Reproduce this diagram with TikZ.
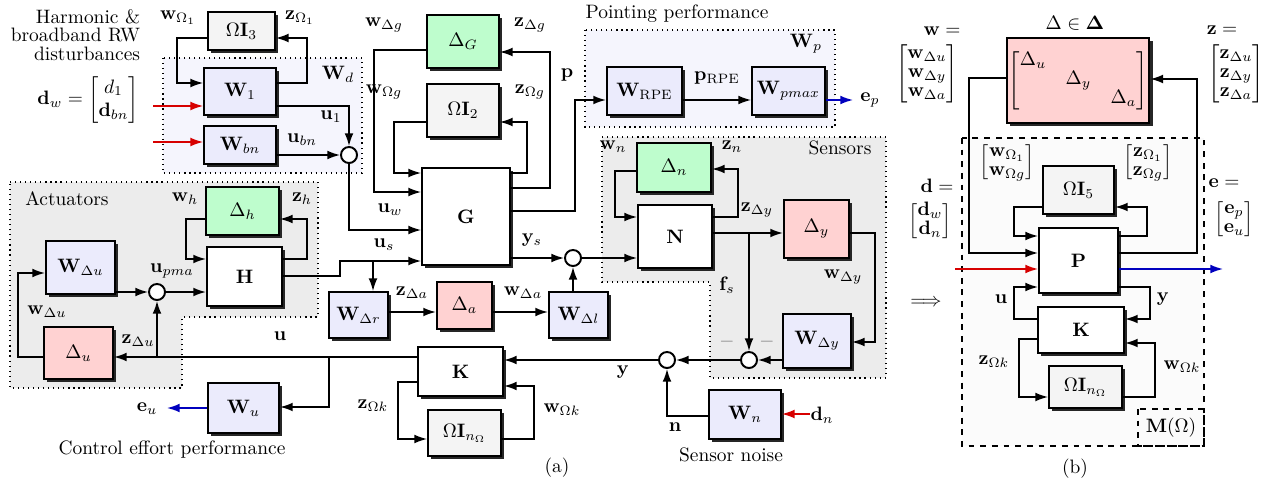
\documentclass[tikz,border=0pt]{standalone}
\usepackage{amsmath,amssymb}
\usepackage{xcolor}
\usepackage{tikz}
\usetikzlibrary{arrows.meta, positioning, shadows}

\definecolor{wgtfill}{RGB}{235,235,252}
\definecolor{uncfill}{RGB}{255,210,210}
\definecolor{unmfill}{RGB}{190,253,205}
\definecolor{omgfill}{RGB}{244,244,244}
\definecolor{regfill}{RGB}{236,236,236}
\definecolor{wregfill}{RGB}{245,245,253}
\definecolor{dstred}{RGB}{215,0,0}
\definecolor{perfblue}{RGB}{0,0,190}

\begin{document}
\begin{tikzpicture}[
  x=0.0181cm, y={(0,-0.0181cm)},
  blk/.style={draw, line width=1pt, fill=white, minimum width=1.3cm, minimum height=0.87cm, inner sep=1pt,
    drop shadow={shadow xshift=1.6pt, shadow yshift=-1.6pt, fill=black!85, opacity=1}},
  wgt/.style={blk, fill=wgtfill},
  unc/.style={blk, fill=uncfill},
  unm/.style={blk, fill=unmfill},
  omg/.style={blk, fill=omgfill},
  sum/.style={circle, draw, line width=1pt, fill=white, minimum size=0.29cm, inner sep=0pt},
  sig/.style={-{Latex[length=6.5pt, width=4.5pt]}, line width=0.8pt},
  reg/.style={draw, dotted, line width=0.6pt, fill=regfill},
  mlab/.style={inner sep=0pt, font=\def\arraystretch{0.82}},
  eqlab/.style={inner sep=0pt},
]
\useasboundingbox (0,0) rectangle (1279,485);

% Regions
\draw[reg, fill=wregfill] (163,58) rectangle (362,173);
\draw[reg, fill=wregfill] (585,30) rectangle (835,127);
\draw[reg] (10,182) -- (318,182) -- (318,317) -- (182,317) -- (182,388) -- (10,388) -- cycle;
\draw[reg] (602,137) -- (886,137) -- (886,378) -- (710,378) -- (710,282) -- (602,282) -- cycle;
\draw[reg, dashed, fill=black!1.5] (962,138) rectangle (1204,446);
\draw[reg, dashed, fill=none] (1138,409) rectangle (1204,446);

% Disturbance model
\node[omg, minimum width=1.21cm, minimum height=0.69cm] (O3) at (241.5,31) {$\Omega\mathbf{I}_3$};
\node[wgt, minimum height=0.85cm] (W1) at (240,91.5) {$\mathbf{W}_1$};
\node[wgt, minimum height=0.69cm] (Wbn) at (240,145) {$\mathbf{W}_{bn}$};

% Plant
\node[unm, minimum height=0.96cm] (DG) at (463,41.5) {$\Delta_G$};
\node[omg, minimum height=0.96cm] (O2) at (463,110.5) {$\Omega\mathbf{I}_2$};
\node[blk, minimum width=1.59cm, minimum height=1.76cm] (G) at (466,216.5) {$\mathbf{G}$};

% Pointing performance
\node[wgt, minimum width=1.36cm] (WRPE) at (644.5,91) {$\mathbf{W}_{\mathrm{RPE}}$};
\node[wgt, minimum width=1.32cm, inner sep=0pt] (Wpm) at (788.5,91) {$\mathbf{W}_{pmax}$};

% Sensors
\node[unm, minimum width=1.34cm, minimum height=0.89cm] (Dn) at (674,167.5) {$\Delta_n$};
\node[blk, minimum width=1.34cm, minimum height=1.14cm] (N) at (675,236.5) {$\mathbf{N}$};
\node[unc, minimum width=1.18cm, minimum height=1.05cm] (Dy) at (816.5,229) {$\Delta_y$};
\node[wgt, minimum width=1.23cm, minimum height=0.98cm] (WDy) at (817,341) {$\mathbf{W}_{\Delta y}$};
\node[wgt, minimum height=0.89cm] (Wn) at (745,414.5) {$\mathbf{W}_n$};

% Controller
\node[blk, minimum width=1.54cm, minimum height=0.89cm] (K) at (460.5,371.5) {$\mathbf{K}$};
\node[omg, minimum width=1.32cm, minimum height=0.83cm] (Ok) at (464.5,433) {$\Omega\mathbf{I}_{n_\Omega}$};
\node[wgt, minimum width=1.29cm, minimum height=0.91cm] (Wu) at (243.5,408) {$\mathbf{W}_u$};

% Actuators
\node[unc, minimum width=1.25cm, minimum height=0.94cm] (Du) at (78.5,353) {$\Delta_u$};
\node[wgt, minimum width=1.25cm, minimum height=0.96cm] (WDu) at (80.5,267.5) {$\mathbf{W}_{\Delta u}$};
\node[blk, minimum width=1.36cm, minimum height=1.07cm] (H) at (244.5,276.5) {$\mathbf{H}$};
\node[unm, minimum width=1.32cm] (Dh) at (242.5,211) {$\Delta_h$};

% Rate / delay
\node[wgt, minimum width=1.07cm, minimum height=0.83cm] (WDr) at (358.5,315) {$\mathbf{W}_{\Delta r}$};
\node[unc, minimum width=1.0cm, minimum height=0.85cm] (Da) at (464.5,305.5) {$\Delta_a$};
\node[wgt, minimum width=1.07cm, minimum height=0.83cm] (WDl) at (578.5,315) {$\mathbf{W}_{\Delta l}$};

% Sums
\foreach \n/\x/\y in {s1/349/155, s2/573/258, s3/749/360, s4/667/360, s5/157/292} {
  \node[sum] (\n) at (\x,\y) {};
}

% Free ends
\coordinate (dw1) at (153,106);
\coordinate (dw2) at (153,142);
\coordinate (ep) at (853,100);
\coordinate (dn) at (810,414);
\coordinate (eu) at (167,408);
\coordinate (us) at (373,261);
\coordinate (ub) at (329,357);

% Connectors (a)
\draw[sig] (O3.west |- 0,38) -| (177,83) -- (W1.west |- 0,83);
\draw[sig] (W1.east |- 0,83) -| (307,38) -- (O3.east |- 0,38);
\draw[sig, dstred] (dw1) -- (W1.west |- dw1);
\draw[sig, dstred] (dw2) -- (Wbn.west |- dw2);
\draw[sig] (W1.east |- 0,106) -| (s1.north);
\draw[sig] (Wbn.east |- s1) -- (s1.west);
\draw[sig] (s1.south) |- (G.west |- 0,230);
\draw[sig] (DG.west |- 0,50) -| (374,192) -- (G.west |- 0,192);
\draw[sig] (O2.west |- 0,122) -| (394,173) -- (G.west |- 0,173);
\draw[sig] (G.east |- 0,173) -| (527,122) -- (O2.east |- 0,122);
\draw[sig] (G.east |- 0,188) -| (550,52) -- (DG.east |- 0,52);
\draw[sig] (G.east |- 0,211) -| (575,100) -- (WRPE.west |- 0,100);
\draw[sig] (G.east |- s2) -- (s2.west);
\draw[sig] (WRPE.east |- 0,100) -- (Wpm.west |- 0,100);
\draw[sig, perfblue] (Wpm.east |- ep) -- (ep);
\draw[sig] (H.east |- 0,276) -| (340,261) -- (G.west |- 0,261);
\draw[sig] (us) -- (WDr.north -| us);
\draw[sig] (WDr.east |- 0,312) -- (Da.west |- 0,312);
\draw[sig] (Da.east |- 0,312) -- (WDl.west |- 0,312);
\draw[sig] (WDl.north -| s2) -- (s2.south);
\draw[sig] (s2.east) -- (N.west |- s2);
\draw[sig] (Dn.west |- 0,171) -| (615,217) -- (N.west |- 0,217);
\draw[sig] (N.east |- 0,217) -| (738,169) -- (Dn.east |- 0,169);
\draw[sig] (N.east |- 0,233) -- (Dy.west |- 0,233);
\draw[sig] (s3 |- 0,233) -- (s3.north);
\draw[sig] (Dy.east |- 0,233) -| (875,342) -- (WDy.east |- 0,342);
\draw[sig] (WDy.west |- s3) -- (s3.east);
\draw[sig] (s3.west) -- (s4.east);
\draw[sig] (s4.west) -- (K.east |- s4);
\draw[sig] (Wn.west |- 0,416) -| (s4.south);
\draw[sig, dstred] (dn) -- (Wn.east |- dn);
\draw[sig] (K.west |- 0,357) -- (Du.east |- 0,357);
\draw[sig] (ub) |- (Wu.east |- 0,407);
\draw[sig] (s5 |- 0,357) -- (s5.south);
\draw[sig, perfblue] (Wu.west |- eu) -- (eu);
\draw[sig] (Du.west |- 0,357) -| (18,273) -- (WDu.west |- 0,273);
\draw[sig] (WDu.east |- s5) -- (s5.west);
\draw[sig] (s5.east) -- (H.west |- s5);
\draw[sig] (Dh.west |- 0,219) -| (186,259) -- (H.west |- 0,259);
\draw[sig] (H.east |- 0,259) -| (307,219) -- (Dh.east |- 0,219);
\draw[sig] (K.west |- 0,382) -| (398,439) -- (Ok.west |- 0,439);
\draw[sig] (Ok.east |- 0,439) -| (534,386) -- (K.east |- 0,386);

% Labels (a)
\node[anchor=east, align=right] (ldist) at (147,35) {Harmonic \&\\[-2.5pt] broadband RW\\[-2.5pt] disturbances};
\node (ldw) at (88,100) {$\mathbf{d}_w=\begin{bmatrix}d_1\\ \mathbf{d}_{bn}\end{bmatrix}$};
\node (lwO1) at (178,18) {$\mathbf{w}_{\Omega_1}$};
\node (lzO1) at (300,18) {$\mathbf{z}_{\Omega_1}$};
\node (lWd) at (338,74) {$\mathbf{W}_d$};
\node (lu1) at (331,117) {$\mathbf{u}_1$};
\node (lubn) at (302,140) {$\mathbf{u}_{bn}$};
\node (luw) at (390,210) {$\mathbf{u}_w$};
\node (lus) at (384,245) {$\mathbf{u}_s$};
\node (lwDg) at (384,25) {$\mathbf{w}_{\Delta g}$};
\node (lzDg) at (530,25) {$\mathbf{z}_{\Delta g}$};
\node (lwOg) at (384,92) {$\mathbf{w}_{\Omega g}$};
\node (lzOg) at (530,92) {$\mathbf{z}_{\Omega g}$};
\node (lp) at (567,75) {$\mathbf{p}$};
\node (lys) at (532,240) {$\mathbf{y}_s$};
\node (lpp) at (677,14) {Pointing performance};
\node (lWp) at (806,44) {$\mathbf{W}_p$};
\node (lpRPE) at (717,78) {$\mathbf{p}_{\mathrm{RPE}}$};
\node (lep) at (870,100) {$\mathbf{e}_p$};
\node (lsens) at (840,148) {Sensors};
\node (lwn) at (613,147) {$\mathbf{w}_n$};
\node (lzn) at (732,147) {$\mathbf{z}_n$};
\node (lzDy) at (757,210) {$\mathbf{z}_{\Delta y}$};
\node (lfs) at (727,285) {$\mathbf{f}_s$};
\node (lwDy) at (843,277) {$\mathbf{w}_{\Delta y}$};
\node[gray] (lm1) at (727,342) {$-$};
\node[gray] (lm2) at (767,342) {$-$};
\node (ly) at (623,372) {$\mathbf{y}$};
\node (ln) at (675,427) {$\mathbf{n}$};
\node (ldn) at (822,415) {$\mathbf{d}_n$};
\node (lsn) at (731,455) {Sensor noise};
\node (lwOk) at (562,410) {$\mathbf{w}_{\Omega k}$};
\node (lzOk) at (373,406) {$\mathbf{z}_{\Omega k}$};
\node (lu) at (280,336) {$\mathbf{u}$};
\node (leu) at (147,409) {$\mathbf{e}_u$};
\node (lcep) at (172,450) {Control effort performance};
\node (lact) at (67,199) {Actuators};
\node (lwh) at (185,199) {$\mathbf{w}_h$};
\node (lzh) at (302,199) {$\mathbf{z}_h$};
\node (lupma) at (172,271) {$\mathbf{u}_{pma}$};
\node (lwDu) at (47,312) {$\mathbf{w}_{\Delta u}$};
\node (lzDu) at (138,341) {$\mathbf{z}_{\Delta u}$};
\node (lzDa) at (412,293) {$\mathbf{z}_{\Delta a}$};
\node (lwDa) at (523,293) {$\mathbf{w}_{\Delta a}$};
\node (la) at (557,468) {(a)};

% Part (b)
\node[unc, minimum width=2.53cm, minimum height=1.54cm, font=\def\arraystretch{0.82}] (D) at (1078,80.5) {$\begin{bmatrix}\Delta_u&&\\&\Delta_y&\\&&\Delta_a\end{bmatrix}$};
\node[omg, minimum width=1.29cm] (O5) at (1078.5,190) {$\Omega\mathbf{I}_5$};
\node[blk, minimum width=1.43cm, minimum height=1.18cm] (P) at (1078.5,260.5) {$\mathbf{P}$};
\node[blk, minimum width=1.56cm, minimum height=0.83cm] (Kb) at (1081,330) {$\mathbf{K}$};
\node[omg, minimum width=1.32cm, minimum height=0.76cm] (Okb) at (1085.5,387) {$\Omega\mathbf{I}_{n_\Omega}$};

\coordinate (db) at (955,269);
\coordinate (eb) at (1223,269);

\draw[sig] (D.west |- 0,78) -| (969,253) -- (P.west |- 0,253);
\draw[sig] (P.east |- 0,253) -| (1197,79) -- (D.east |- 0,79);
\draw[sig] (O5.west |- 0,207) -| (1014,236) -- (P.west |- 0,236);
\draw[sig] (P.east |- 0,236) -| (1147,207) -- (O5.east |- 0,207);
\draw[sig, dstred] (db) -- (P.west |- db);
\draw[sig, perfblue] (P.east |- eb) -- (eb);
\draw[sig] (Kb.west |- 0,319) -| (1014,287) -- (P.west |- 0,287);
\draw[sig] (P.east |- 0,287) -| (1150,319) -- (Kb.east |- 0,319);
\draw[sig] (Kb.west |- 0,339) -| (1019,397) -- (Okb.west |- 0,397);
\draw[sig] (Okb.east |- 0,397) -| (1155,343) -- (Kb.east |- 0,343);

% Labels (b)
\node (lDelta) at (1075,23) {$\Delta\in\mathbf{\Delta}$};
\node[eqlab] (lweq) at (942,31) {$\mathbf{w}=$};
\node[mlab] (lw) at (927,74) {$\begin{bmatrix}\mathbf{w}_{\Delta u}\\ \mathbf{w}_{\Delta y}\\ \mathbf{w}_{\Delta a}\end{bmatrix}$};
\node[eqlab] (lzeq) at (1222,30) {$\mathbf{z}=$};
\node[mlab] (lz) at (1236,74) {$\begin{bmatrix}\mathbf{z}_{\Delta u}\\ \mathbf{z}_{\Delta y}\\ \mathbf{z}_{\Delta a}\end{bmatrix}$};
\node[mlab] (lwO) at (1007,162) {$\begin{bmatrix}\mathbf{w}_{\Omega_1}\\ \mathbf{w}_{\Omega g}\end{bmatrix}$};
\node[mlab] (lzO) at (1148,162) {$\begin{bmatrix}\mathbf{z}_{\Omega_1}\\ \mathbf{z}_{\Omega g}\end{bmatrix}$};
\node[eqlab] (ldeq) at (937,186) {$\mathbf{d}=$};
\node[mlab] (ld) at (930,221) {$\begin{bmatrix}\mathbf{d}_w\\ \mathbf{d}_n\end{bmatrix}$};
\node[eqlab] (leeq) at (1224,183) {$\mathbf{e}=$};
\node[mlab] (le) at (1234,219) {$\begin{bmatrix}\mathbf{e}_p\\ \mathbf{e}_u\end{bmatrix}$};
\node (limp) at (926,303) {$\Longrightarrow$};
\node (lub) at (1001,299) {$\mathbf{u}$};
\node (lyb) at (1163,299) {$\mathbf{y}$};
\node (lzOkb) at (994,362) {$\mathbf{z}_{\Omega k}$};
\node (lwOkb) at (1182,367) {$\mathbf{w}_{\Omega k}$};
\node (lM) at (1171,428) {$\mathbf{M}(\Omega)$};
\node (lb) at (1075,469) {(b)};
\end{tikzpicture}
\end{document}
